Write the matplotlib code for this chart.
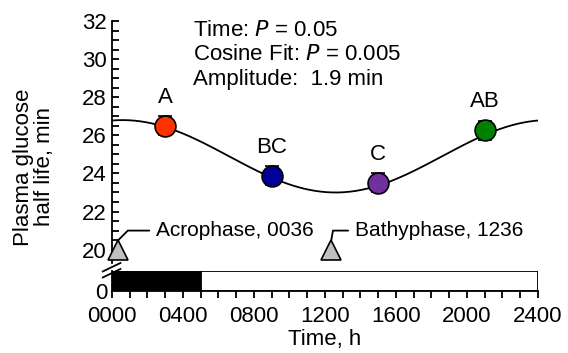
import numpy as np
import matplotlib.pyplot as plt
from matplotlib.ticker import MultipleLocator

plt.rcParams['font.family'] = ['Liberation Sans', 'DejaVu Sans']
plt.rcParams['font.size'] = 16

# group means (clock time as hhmm)
times = [300, 900, 1500, 2100]
means = [26.5, 23.87, 23.5, 26.26]
errs = [0.5, 0.5, 0.5, 0.5]
letters = ['A', 'BC', 'C', 'AB']
colors = ['#ff3300', '#000099', '#7030a0', '#008000']

# cosinor fit parameters
mesor = 24.9
amplitude = 1.9
acrophase_h = 0.6

acro_x = 36
bathy_x = 1236

# light/dark bar
dark_end = 500
day_end = 2400

fig = plt.figure(figsize=(5.68, 3.53), dpi=100)
ax = fig.add_axes([0.197, 0.255, 0.75, 0.6855])
axb = fig.add_axes([0.197, 0.1756, 0.75, 0.0567], sharex=ax)

# fitted curve
t = np.linspace(0, 24, 300)
fit = mesor + amplitude * np.cos(2 * np.pi * (t - acrophase_h) / 24)
ax.plot(t * 100, fit, color='black', lw=1.3, zorder=2)

for x, m, e, c, lab in zip(times, means, errs, colors, letters):
    ax.errorbar(x, m, yerr=e, fmt='o', ms=15, mfc=c, mec='black', mew=1.2,
                ecolor='black', elinewidth=2, capsize=5, capthick=2.5,
                zorder=3)
    ax.text(x, m + 0.95, lab, ha='center', va='bottom')

ax.plot([acro_x, bathy_x], [20, 20], '^', ms=14, mfc='#c0c0c0', mec='black',
        mew=1.2, clip_on=False, zorder=4)
ax.annotate('Acrophase, 0036', xy=(acro_x, 20.5), xytext=(250, 21.0),
            va='center', ha='left', fontsize=15,
            arrowprops=dict(arrowstyle='-', color='black', lw=1.3,
                            shrinkA=3, shrinkB=0,
                            connectionstyle='angle,angleA=0,angleB=45,rad=0'))
ax.annotate('Bathyphase, 1236', xy=(bathy_x, 20.5), xytext=(1370, 21.0),
            va='center', ha='left', fontsize=15,
            arrowprops=dict(arrowstyle='-', color='black', lw=1.3,
                            shrinkA=3, shrinkB=0,
                            connectionstyle='angle,angleA=0,angleB=80,rad=0'))

stats = ['Time: $\\it{P}$ = 0.05', 'Cosine Fit: $\\it{P}$ = 0.005',
         'Amplitude:  1.9 min']
for i, line in enumerate(stats):
    ax.text(0.19, 0.94 - i * 0.103, line, transform=ax.transAxes,
            va='baseline', ha='left', fontsize=16)

ax.set_xlim(0, 2400)
ax.set_ylim(19.3, 32)
ax.yaxis.set_major_locator(MultipleLocator(2))
ax.yaxis.set_minor_locator(MultipleLocator(0.5))
ax.tick_params(axis='y', which='both', direction='in', length=5, width=1.3)
ax.tick_params(axis='x', which='both', bottom=False, labelbottom=False)
for s in ['top', 'right', 'bottom']:
    ax.spines[s].set_visible(False)
ax.spines['left'].set_linewidth(1.3)

# bottom panel with light/dark bar
axb.barh(0.5, dark_end, height=1, left=0, color='black', edgecolor='black',
         lw=1.3)
axb.barh(0.5, day_end - dark_end, height=1, left=dark_end, color='white',
         edgecolor='black', lw=1.3)
axb.set_ylim(0, 1)
axb.set_yticks([0])
axb.xaxis.set_minor_locator(MultipleLocator(100))
axb.set_xticks(range(0, 2401, 400))
axb.set_xticklabels(['%04d' % v for v in range(0, 2401, 400)])
axb.tick_params(axis='x', which='both', direction='out', length=5, width=1.3,
                pad=6)
axb.tick_params(axis='y', length=0)
for s in ['top', 'right']:
    axb.spines[s].set_visible(False)
axb.spines['left'].set_linewidth(1.3)
axb.spines['bottom'].set_linewidth(1.3)
axb.set_xlabel('Time, h', labelpad=1)

# axis break marks
for dy in (0.0, 0.017):
    fig.add_artist(plt.Line2D([0.181, 0.212], [0.214 + dy, 0.238 + dy],
                              color='black', lw=1.3))

fig.text(0.06, 0.527, 'Plasma glucose\nhalf life, min', rotation=90,
         ha='center', va='center', linespacing=1.05)

fig.savefig('out.png', dpi=100)
